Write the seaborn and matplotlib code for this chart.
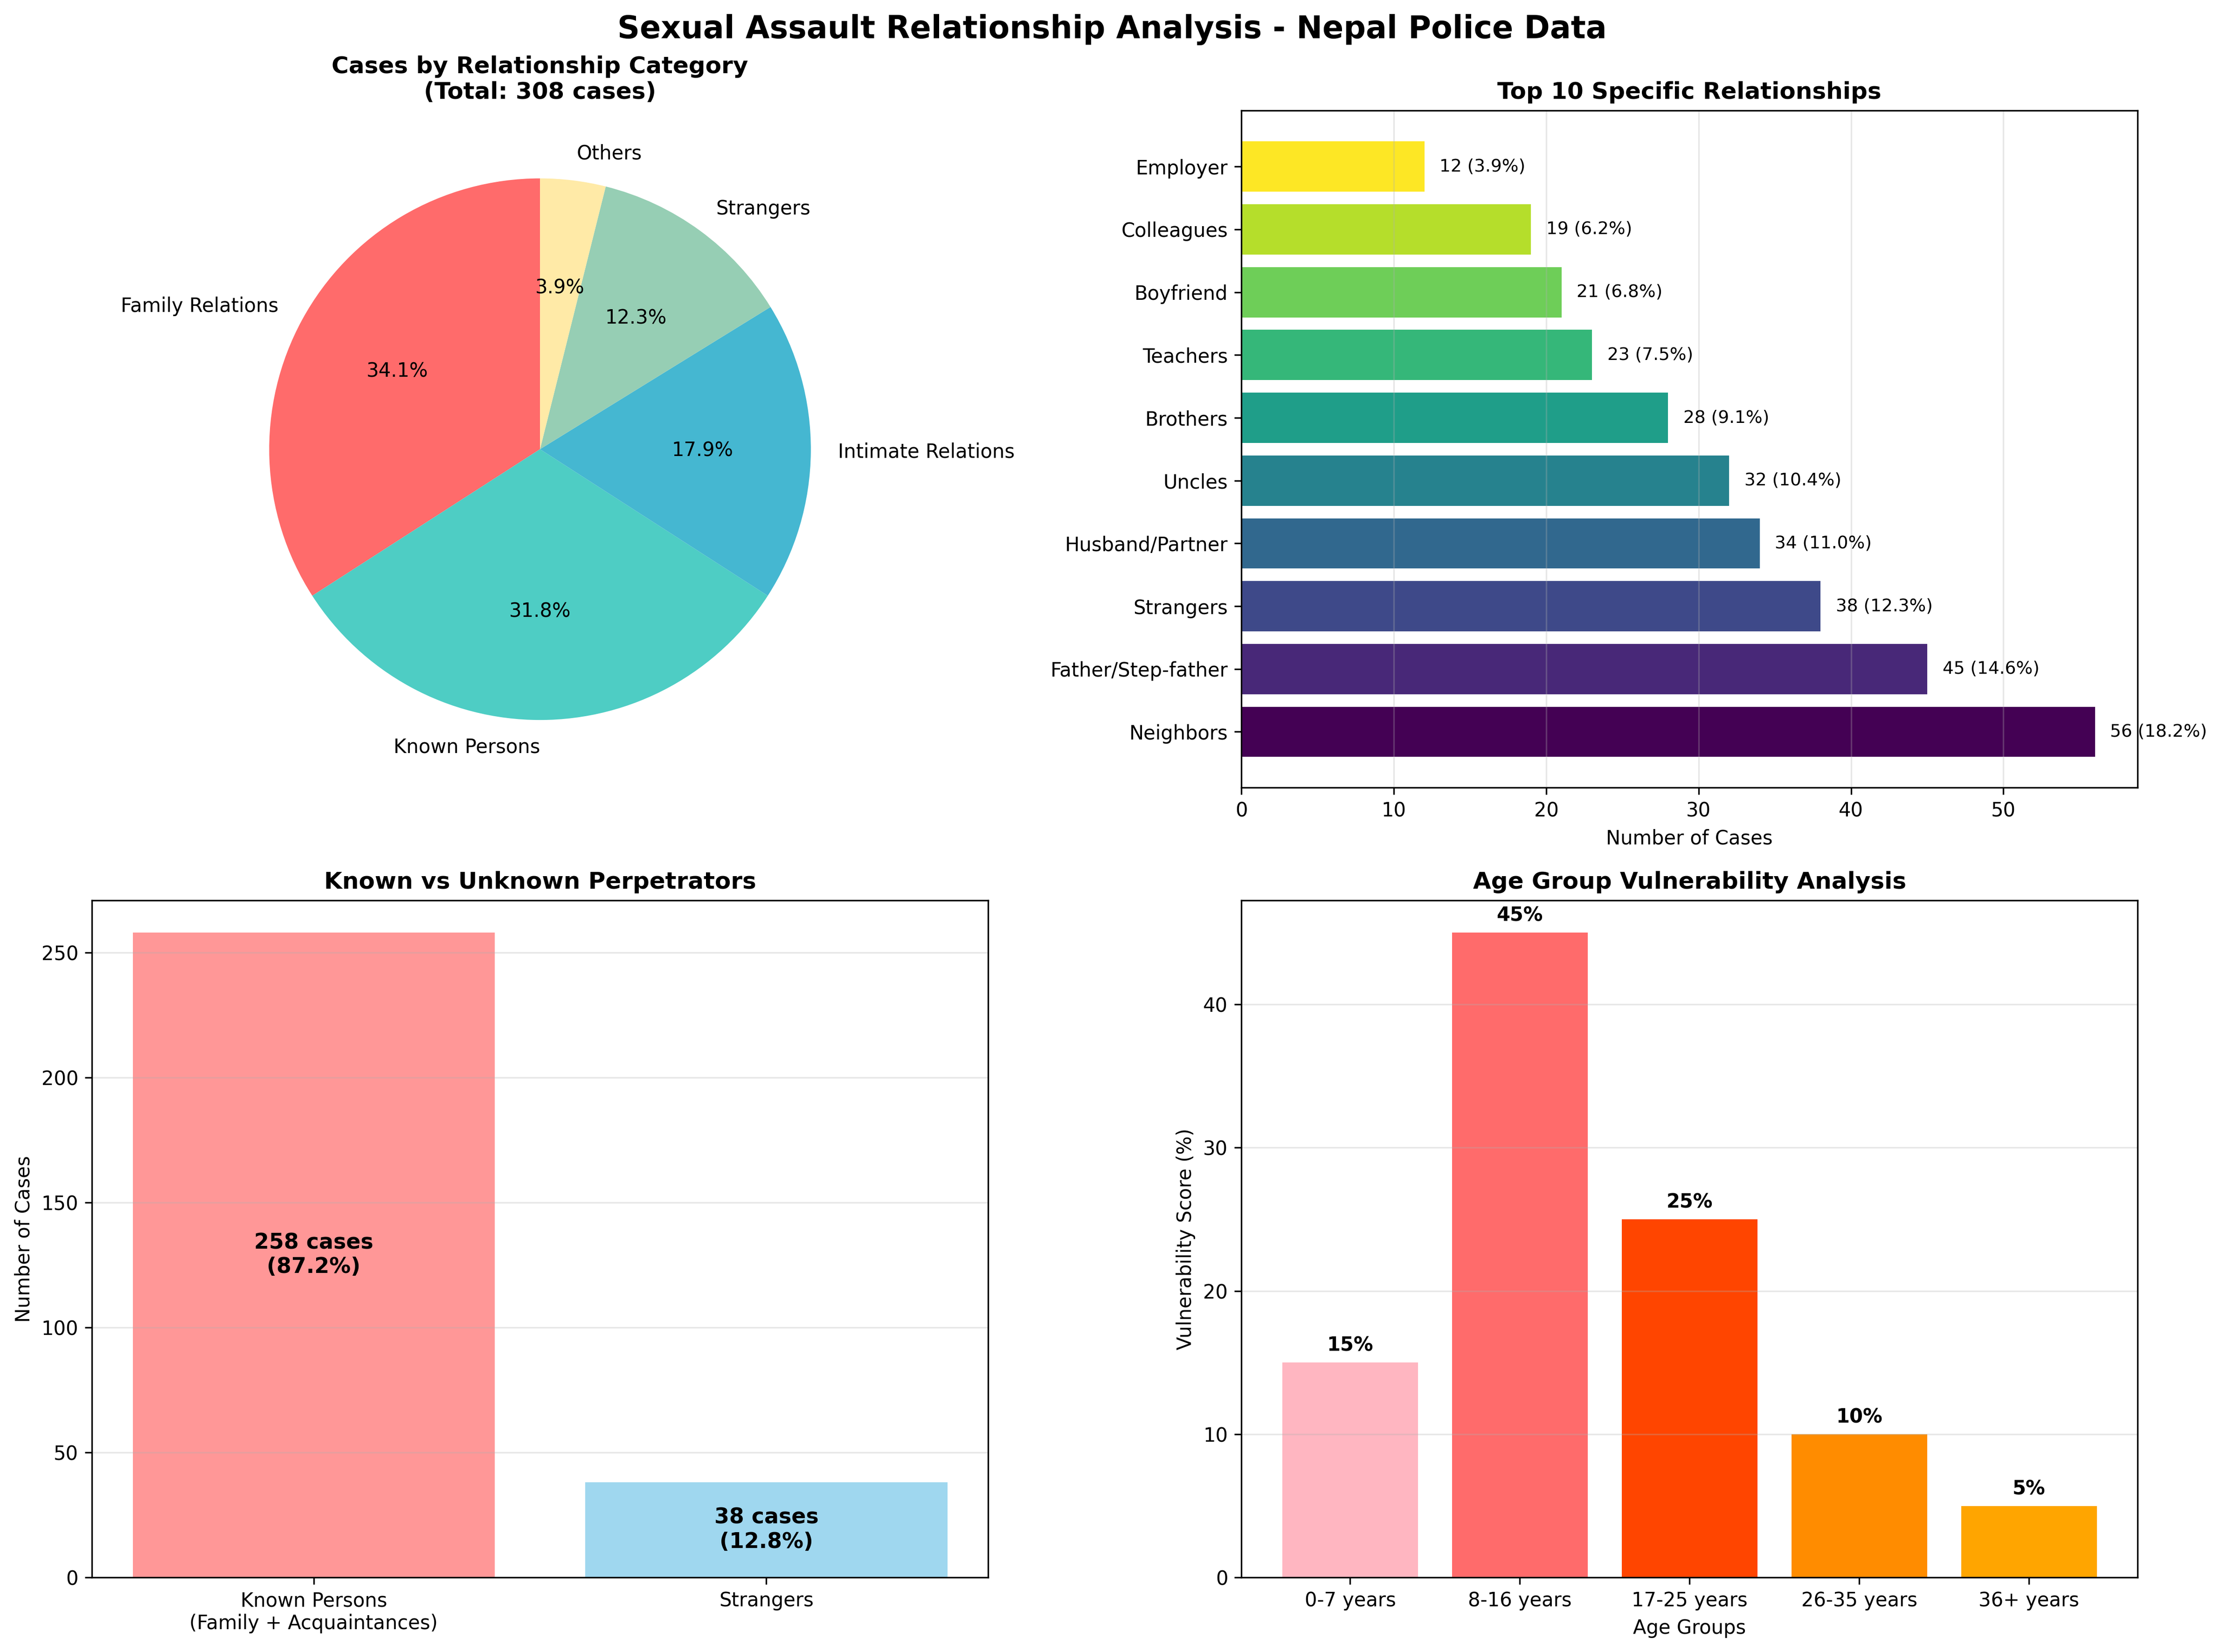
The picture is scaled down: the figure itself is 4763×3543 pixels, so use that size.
import matplotlib
matplotlib.use("Agg")
import matplotlib.pyplot as plt
import seaborn as sns
import numpy as np

# category breakdown (pie), shares in percent
categories = ["Family Relations", "Known Persons", "Intimate Relations", "Strangers", "Others"]
category_share = [34.1, 31.8, 17.9, 12.3, 3.9]
category_colors = ["#FF6B6B", "#4ECDC4", "#45B7D1", "#96CEB4", "#FFEAA7"]
total = 308

# top 10 specific relationships
relationships = ["Neighbors", "Father/Step-father", "Strangers", "Husband/Partner", "Uncles",
                 "Brothers", "Teachers", "Boyfriend", "Colleagues", "Employer"]
relationship_cases = [56, 45, 38, 34, 32, 28, 23, 21, 19, 12]

# known vs unknown
known_labels = ["Known Persons\n(Family + Acquaintances)", "Strangers"]
known_cases = [258, 38]
known_colors = ["#FF6B6B", "#87CEEB"]
known_alpha = [0.7, 0.8]

# age groups
age_groups = ["0-7 years", "8-16 years", "17-25 years", "26-35 years", "36+ years"]
age_scores = [15, 45, 25, 10, 5]
age_colors = ["#FFB6C1", "#FF6B6B", "#FF4500", "#FF8C00", "#FFA500"]

fig, axes = plt.subplots(2, 2, figsize=(16, 12))
fig.suptitle("Sexual Assault Relationship Analysis - Nepal Police Data", fontsize=16, fontweight="bold")


def default_lim(n):
    # same padding matplotlib would give to bars of width 0.8
    pad = 0.05 * (n - 1 + 0.8)
    return -0.4 - pad, n - 1 + 0.4 + pad


# pie
ax = axes[0, 0]
ax.pie(category_share, labels=categories, colors=category_colors, autopct="%1.1f%%", startangle=90)
ax.set_title(f"Cases by Relationship Category\n(Total: {total} cases)", fontsize=12, fontweight="bold")

# horizontal bars
ax = axes[0, 1]
order = relationships[::-1]
pal = dict(zip(relationships, plt.cm.viridis(np.linspace(0, 1, len(relationships)))))
sns.barplot(x=relationship_cases, y=relationships, hue=relationships, order=order,
            palette=pal, orient="h", legend=False, ax=ax, width=0.8, saturation=1)
lo, hi = default_lim(len(relationships))
ax.set_ylim(hi, lo)
ax.set_xlim(0, max(relationship_cases) * 1.05)
for name, v in zip(relationships, relationship_cases):
    ax.text(v + 1, order.index(name), f"{v} ({v / total * 100:.1f}%)", va="center", fontsize=9)
ax.set_title("Top 10 Specific Relationships", fontsize=12, fontweight="bold")
ax.set_xlabel("Number of Cases")
ax.set_ylabel("")
ax.grid(axis="x", alpha=0.3)

# known vs unknown
ax = axes[1, 0]
sns.barplot(x=known_labels, y=known_cases, hue=known_labels, palette=known_colors,
            legend=False, ax=ax, saturation=1)
for patch, a in zip(ax.patches, known_alpha):
    patch.set_alpha(a)
ax.set_xlim(*default_lim(len(known_labels)))
known_total = sum(known_cases)
for i, v in enumerate(known_cases):
    ax.text(i, v / 2, f"{v} cases\n({v / known_total * 100:.1f}%)", ha="center", va="center",
            fontsize=11, fontweight="bold")
ax.set_title("Known vs Unknown Perpetrators", fontsize=12, fontweight="bold")
ax.set_ylabel("Number of Cases")
ax.grid(axis="y", alpha=0.3)

# age groups
ax = axes[1, 1]
sns.barplot(x=age_groups, y=age_scores, hue=age_groups, palette=age_colors,
            legend=False, ax=ax, saturation=1)
ax.set_xlim(*default_lim(len(age_groups)))
for i, v in enumerate(age_scores):
    ax.text(i, v + 0.5, f"{v}%", ha="center", va="bottom", fontweight="bold")
ax.set_title("Age Group Vulnerability Analysis", fontsize=12, fontweight="bold")
ax.set_xlabel("Age Groups")
ax.set_ylabel("Vulnerability Score (%)")
ax.grid(axis="y", alpha=0.3)

plt.tight_layout()
plt.savefig("out.png", dpi=300, bbox_inches="tight")
